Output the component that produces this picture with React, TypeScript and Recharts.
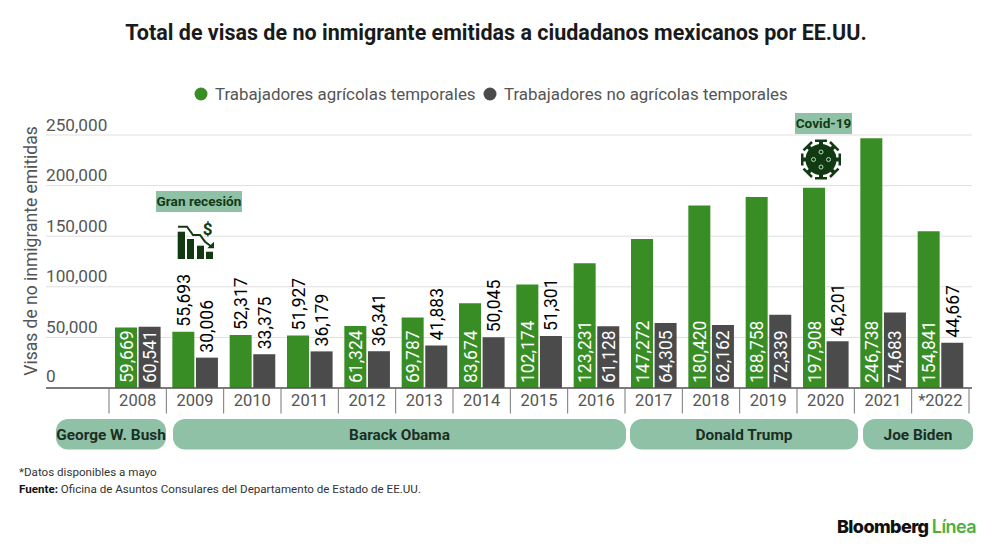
import React from "react";
import { BarChart, Bar, XAxis, YAxis, CartesianGrid, LabelList, Legend } from "recharts";

const years = ["2008","2009","2010","2011","2012","2013","2014","2015","2016","2017","2018","2019","2020","2021","*2022"];
const agricolas = [59669,55693,52317,51927,61324,69787,83674,102174,123231,147272,180420,188758,197908,246738,154841];
const noAgricolas = [60541,30006,33375,36179,36341,41883,50045,51301,61128,64305,62162,72339,46201,74683,44667];
const yTicks = [0,50000,100000,150000,200000,250000];
const presidents = [
  { name: "George W. Bush", x: 56, w: 110 },
  { name: "Barack Obama", x: 173, w: 453 },
  { name: "Donald Trump", x: 630, w: 228 },
  { name: "Joe Biden", x: 863, w: 110 },
];
const seriesNames = ["Trabajadores agrícolas temporales", "Trabajadores no agrícolas temporales"];
const GREEN = "#388e24";
const DARK = "#4b4b4b";
const PILL = "#8fc1a7";
const INK = "#123a12";
const FONT = "Roboto, sans-serif";
const fmt = (v: number) => v.toLocaleString("en-US");
const rows = years.map((y, i) => ({ year: y, agricolas: agricolas[i], noAgricolas: noAgricolas[i] }));

const YTick = (p: any) => (
  <text x={46} y={p.y - (p.payload.value === 0 ? 6 : 4.5)} fontFamily={FONT} fontSize={17.2} fill="#555">
    {fmt(p.payload.value)}
  </text>
);

const XTick = (p: any) => {
  const band = 57.33;
  const last = p.index === years.length - 1;
  return (
    <g>
      <line x1={p.x - band / 2} x2={p.x - band / 2} y1={388} y2={413.5} stroke="#777" strokeWidth={1} />
      {last && <line x1={p.x + band / 2} x2={p.x + band / 2} y1={388} y2={413.5} stroke="#777" strokeWidth={1} />}
      <text x={p.x} y={406} textAnchor="middle" fontFamily={FONT} fontSize={16.5} fill="#555">
        {p.payload.value}
      </text>
    </g>
  );
};

const makeLabel = (threshold: number) => (p: any) => {
  const v = p.value as number;
  const cx = p.x + p.width / 2;
  const outside = v < threshold;
  const baseY = p.y + p.height;
  const anchorY = outside ? p.y - 5 : baseY - 5;
  return (
    <text
      transform={`translate(${cx + 6.5},${anchorY}) rotate(-90)`}
      fontFamily={FONT}
      fontSize={17.5}
      fill={outside ? "#000" : "#fff"}
    >
      {fmt(v)}
    </text>
  );
};

const LegendContent = () => (
  <svg width={640} height={24} style={{ display: "block" }}>
    <circle cx={7} cy={12} r={6.5} fill={GREEN} />
    <text x={21} y={18} fontFamily={FONT} fontSize={16.9} fill="#555">{seriesNames[0]}</text>
    <circle cx={296} cy={12} r={6.5} fill={DARK} />
    <text x={310} y={18} fontFamily={FONT} fontSize={16.9} fill="#555">{seriesNames[1]}</text>
  </svg>
);

const RecessionIcon = () => (
  <g fill={INK}>
    <rect x={177.7} y={231.7} width={7.3} height={27.3} />
    <rect x={187} y={239} width={7} height={20} />
    <rect x={197} y={245.7} width={7} height={13.3} />
    <rect x={206} y={251.7} width={7} height={7.3} />
    <path d="M178 226.7 H187 L193 235 H200 L205 241.7 L212 247" fill="none" stroke={INK} strokeWidth={2} />
    <path d="M214 241.7 V248.3 H207.3 Z" />
    <text x={207.7} y={235} textAnchor="middle" fontFamily={FONT} fontWeight={700} fontSize={17}>$</text>
  </g>
);

const spikeAngles = [0, 45, 90, 135, 180, 225, 270, 315];
const VirusIcon = () => (
  <g transform="translate(821,159.5)">
    {spikeAngles.map((a) => (
      <g key={a} transform={`rotate(${a})`} fill={INK}>
        <rect x={-2} y={-18} width={4} height={4} />
        <rect x={-6} y={-20} width={12} height={2.5} />
      </g>
    ))}
    <circle r={15.5} fill={INK} />
    {[[0, -7.5], [7.5, 0], [0, 7.5], [-7.5, 0]].map(([x, y]) => (
      <circle key={`${x}${y}`} cx={x} cy={y} r={2} fill="none" stroke="#b9d8c4" strokeWidth={1} />
    ))}
  </g>
);

export default function App() {
  return (
    <div style={{ position: "absolute", left: 0, top: 0, width: 1000, height: 550, background: "#fff", overflow: "hidden" }}>
      <BarChart
        width={1000}
        height={550}
        data={rows}
        margin={{ top: 135, right: 28, bottom: 112, left: 0 }}
        barSize={22}
        barGap={1.6}
      >
        <CartesianGrid vertical={false} stroke="#dfdfdf" strokeWidth={1} />
        <XAxis
          dataKey="year"
          padding={{ left: 63, right: 3 }}
          interval={0}
          tickLine={false}
          axisLine={{ stroke: "#555", strokeWidth: 1.5 }}
          tick={<XTick />}
          height={26}
        />
        <YAxis
          domain={[0, 250000]}
          ticks={yTicks}
          width={46}
          tickLine={false}
          axisLine={false}
          tick={<YTick />}
          interval={0}
        />
        <Legend
          content={<LegendContent />}
          wrapperStyle={{ position: "absolute", left: 194, top: 82, width: 640, height: 24, bottom: "auto" }}
        />
        <Bar dataKey="agricolas" name={seriesNames[0]} fill={GREEN} isAnimationActive={false}>
          <LabelList dataKey="agricolas" content={makeLabel(57000)} />
        </Bar>
        <Bar dataKey="noAgricolas" name={seriesNames[1]} fill={DARK} isAnimationActive={false}>
          <LabelList dataKey="noAgricolas" content={makeLabel(57000)} />
        </Bar>
      </BarChart>

      <svg width={1000} height={550} style={{ position: "absolute", left: 0, top: 0, pointerEvents: "none" }}>
        <text x={496} y={40} textAnchor="middle" fontFamily={FONT} fontWeight={700} fontSize={21.5} fill="#1a1a1a">
          Total de visas de no inmigrante emitidas a ciudadanos mexicanos por EE.UU.
        </text>
        <text transform="translate(37,251) rotate(-90)" textAnchor="middle" fontFamily={FONT} fontSize={17.5} fill="#555">
          Visas de no inmigrante emitidas
        </text>

        <rect x={156} y={191} width={86} height={21} fill={PILL} />
        <text x={199} y={206} textAnchor="middle" fontFamily={FONT} fontWeight={700} fontSize={13.6} fill={INK}>Gran recesión</text>
        <RecessionIcon />

        <rect x={795} y={113} width={57} height={21} fill={PILL} />
        <text x={823.5} y={128} textAnchor="middle" fontFamily={FONT} fontWeight={700} fontSize={13.6} fill={INK}>Covid-19</text>
        <VirusIcon />

        {presidents.map((p) => (
          <g key={p.name}>
            <rect x={p.x} y={419} width={p.w} height={30.5} rx={12} fill={PILL} />
            <text x={p.x + p.w / 2} y={440} textAnchor="middle" fontFamily={FONT} fontWeight={700} fontSize={15.4} fill="#1b2f24">
              {p.name}
            </text>
          </g>
        ))}

        <text x={19} y={476} fontFamily={FONT} fontSize={11.6} fill="#333">*Datos disponibles a mayo</text>
        <text x={19} y={493} fontFamily={FONT} fontSize={11.6} fill="#333">
          <tspan fontWeight={700} fill="#111">Fuente:</tspan> Oficina de Asuntos Consulares del Departamento de Estado de EE.UU.
        </text>

        <text x={837} y={533} fontFamily="Inter, sans-serif" fontWeight={800} fontSize={18} letterSpacing={-0.6} fill="#111">
          Bloomberg <tspan fill="#4caf3c" fontWeight={600}>Línea</tspan>
        </text>
      </svg>
    </div>
  );
}
